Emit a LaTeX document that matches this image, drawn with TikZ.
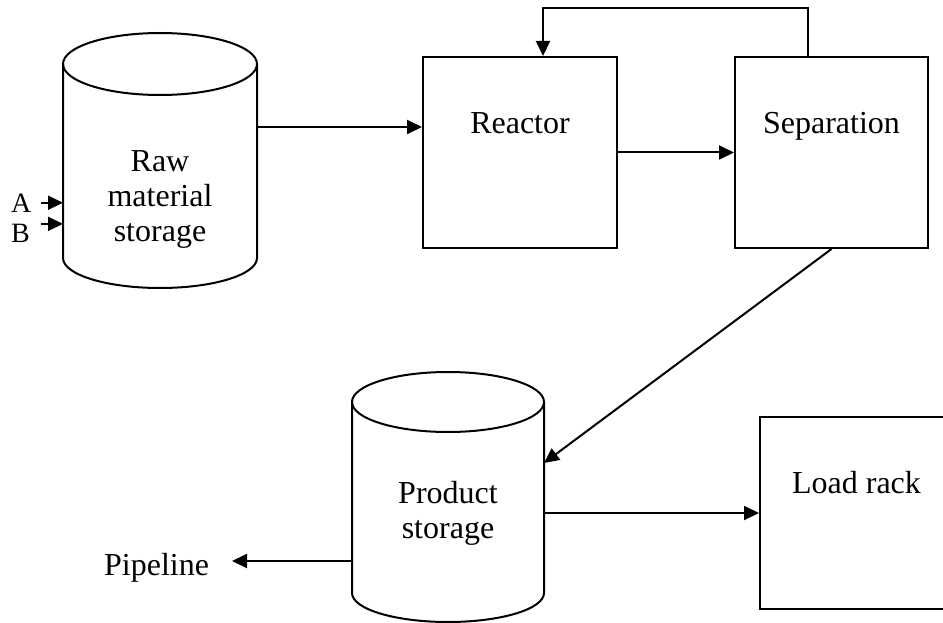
\documentclass[tikz,border=0pt]{standalone}
\usepackage{fontspec}
\setmainfont{Liberation Serif}
\usetikzlibrary{arrows.meta,calc}
\begin{document}
\begin{tikzpicture}[x=1pt,y=-1pt,
  line width=2pt,
  flow/.style={-{Triangle[length=15pt,width=14pt]}},
  unitbox/.style={draw, rectangle, inner sep=0pt, minimum width=193pt, minimum height=191pt},
  tankbody/.style={rectangle, inner sep=0pt, outer sep=0pt},
  lbl/.style={font=\fontsize{32}{35}\selectfont, align=center, inner sep=0pt},
  small/.style={font=\fontsize{28}{30}\selectfont, inner sep=0pt}
]
\useasboundingbox (0,0) rectangle (943,623);
\clip (0,0) rectangle (943,623);

% storage tanks (bodies used as anchors for the connectors)
\node[tankbody, minimum width=194pt, minimum height=194pt] (raw) at (160,161) {};
\draw (raw.north west) -- (raw.south west)
      arc[start angle=180, end angle=360, x radius=97pt, y radius=30pt] -- (raw.north east);
\draw (raw.north) ellipse [x radius=97pt, y radius=31pt];

\node[tankbody, minimum width=192pt, minimum height=191pt] (product) at (448,497.5) {};
\draw (product.north west) -- (product.south west)
      arc[start angle=180, end angle=360, x radius=96pt, y radius=29pt] -- (product.north east);
\draw (product.north) ellipse [x radius=96pt, y radius=30pt];

% process units
\node[unitbox, minimum width=194pt] (reactor) at (520,152.5) {};
\node[unitbox] (separation) at (831.5,152.5) {};
\node[unitbox, minimum height=192pt] (loadrack) at (856.5,513) {};

% labels
\node[lbl] (rawlbl) at (160,199) {Raw\\material\\storage};
\node[lbl, anchor=base] (reactorlbl) at (520,134) {Reactor};
\node[lbl, anchor=base] (separationlbl) at (831.5,134) {Separation};
\node[lbl, anchor=base] (loadracklbl) at (856.5,493) {Load rack};
\node[lbl] (productlbl) at (448,513.5) {Product\\storage};
\node[lbl, anchor=base east] (pipe) at (210,575) {Pipeline};
\node[small, anchor=base west] (ina) at (10,212) {A};
\node[small, anchor=base west] (inb) at (10,242) {B};

% feeds
\draw[flow] ([xshift=9pt]ina.east) coordinate (a1) -- (a1 -| raw.west);
\draw[flow] ([shift={(10pt,9pt)}]inb.east) coordinate (b1) -- (b1 -| raw.west);

% process flows
\draw[flow] ([yshift=34pt]raw.east) coordinate (r1) -- (r1 -| reactor.west);
\draw[flow] (reactor.east) -- (reactor.east -| separation.west);
\draw[flow] ([xshift=-23.5pt]separation.north) -- ++(0pt,48pt) -| ([xshift=23pt]reactor.north);
\draw[flow] (separation.south) -- ([yshift=34.5pt]product.east);
\draw[flow] (product.east |- loadrack.west) -- (loadrack.west);
\coordinate (pipetip) at ([xshift=22pt]pipe.east);
\draw[flow] ([yshift=-63.5pt]product.west) coordinate (p1) -- (p1 -| pipetip);
\end{tikzpicture}
\end{document}
